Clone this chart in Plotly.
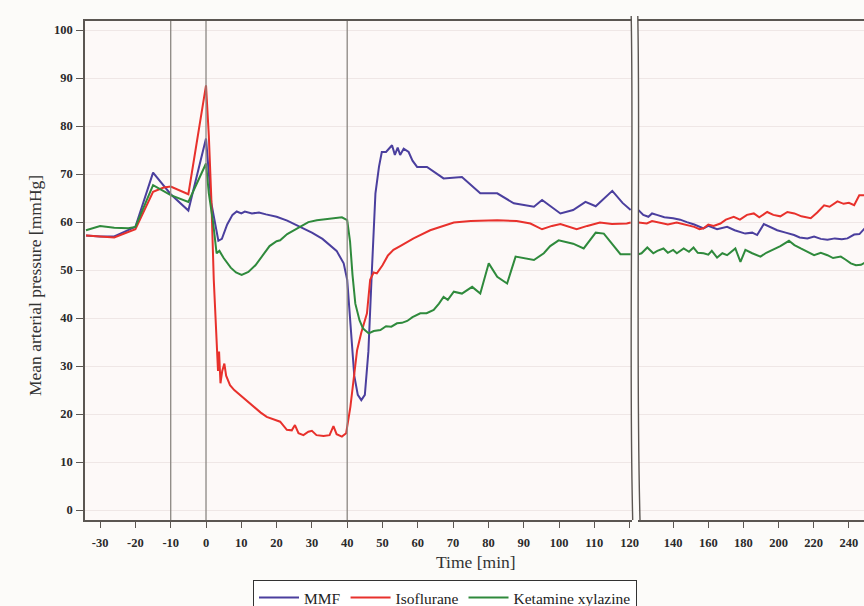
import plotly.graph_objects as go

# ---- data: mean arterial pressure (mmHg) over time (min) ----
mmf_t = [-34, -30, -26, -20, -15, -10, -5, 0, 1.5, 3, 3.5, 4.5, 6, 7.5, 8.7, 10, 11, 13, 15, 17,
         20, 23, 26.7, 30, 33, 35.2, 37, 39, 40, 41, 42, 43, 44, 45, 46, 47, 48, 49, 49.8, 51,
         52.7, 53.5, 54.3, 55, 56, 57.4, 58.5, 59.8, 62.6, 67.3, 72.5, 77.7, 82.5, 87.2, 92.9,
         95.2, 100.4, 104, 107.5, 110.4, 115.1, 118, 120.3,
         123, 125.9, 128, 130.7, 135, 140, 144, 147.8, 152, 157.3, 160, 165, 170.7, 175, 181,
         185, 187.8, 191.6, 195, 199.2, 204, 208.8, 212, 216.4, 220.2, 224, 227.8, 232, 236,
         239.2, 243, 246, 249]
mmf_v = [57.2, 57.0, 57.0, 59.0, 70.3, 65.8, 62.4, 77.4, 64, 57.5, 56.1, 56.5, 59.5, 61.5, 62.2,
         61.8, 62.2, 61.8, 62.0, 61.6, 61.1, 60.3, 59.0, 57.8, 56.5, 55.2, 54.0, 51.4, 48, 38, 28,
         24, 22.9, 24, 33, 50, 66, 71.5, 74.6, 74.6, 76.0, 74.0, 75.5, 74.0, 75.3, 74.6, 72.8,
         71.5, 71.5, 69.1, 69.4, 66.0, 66.0, 63.9, 63.2, 64.6, 61.8, 62.5, 64.2, 63.3, 66.5,
         64.0, 62.5,
         61.5, 61.1, 61.8, 61.5, 61.0, 60.8, 60.5, 60.0, 59.5, 58.7, 59.2, 58.5, 59.0, 58.3,
         57.6, 57.8, 57.3, 59.6, 59.0, 58.3, 57.8, 57.3, 56.8, 56.6, 57.0, 56.5, 56.3, 56.6,
         56.4, 56.6, 57.4, 57.5, 58.7]

iso_t = [-34, -30, -26, -20, -15, -12, -10, -5, 0, 0.8, 1.5, 2.2, 2.8, 3.0, 3.4, 3.7, 4.1, 4.6,
         5.2, 5.7, 6.8, 8, 9.6, 11, 13.4, 15.5, 17.2, 19, 21, 22.9, 24.3, 25.2, 26.2, 27.6, 29,
         30, 31.3, 33.3, 35, 36.1, 37, 38.5, 39.7, 40.9, 42.8, 44, 45.6, 46.5, 47.5, 48.4, 50,
         51.5, 53.1, 55, 58.8, 63.5, 70.2, 75, 82.5, 88, 91.9, 95.2, 98, 100.4, 105, 108,
         111.6, 115, 119.2, 120.3,
         125, 128, 132.6, 137, 142, 147.8, 152, 155, 157.3, 160, 163, 166.9, 170, 174.5, 178,
         182, 185.9, 189, 193.5, 197, 201, 205, 209, 213, 218.3, 222, 225.9, 229, 233.5, 237,
         240, 243, 245.9, 249]
iso_v = [57.2, 57.0, 56.8, 58.5, 66.3, 67.2, 67.4, 65.8, 88.5, 78, 65, 48, 38, 34.7, 29, 33,
         26.4, 29, 30.5, 28, 26, 25, 24, 23, 21.5, 20.3, 19.4, 19.0, 18.4, 16.7, 16.6, 17.7,
         16.0, 15.6, 16.3, 16.5, 15.6, 15.4, 15.6, 17.5, 15.8, 15.3, 16.0, 21.5, 33.3, 37, 41,
         48, 49.5, 49.3, 51, 53, 54.2, 55, 56.6, 58.3, 59.9, 60.2, 60.4, 60.2, 59.7, 58.5, 59.2,
         59.6, 58.5, 59.2, 59.9, 59.6, 59.7, 59.9,
         59.7, 60.2, 59.9, 59.5, 59.9, 59.4, 59.0, 58.5, 58.7, 59.5, 59.2, 59.7, 60.5, 61.1,
         60.5, 61.5, 61.8, 61.0, 62.1, 61.5, 61.2, 62.1, 61.8, 61.2, 60.8, 62.0, 63.5, 63.2,
         64.3, 63.8, 64.0, 63.5, 65.6, 65.6]

ket_t = [-34, -30, -26, -22, -20, -15, -10, -5, 0, 0.8, 2, 3, 3.8, 5, 7, 8.5, 10.1, 12, 14, 16,
         18, 20, 21, 23, 26.7, 29, 31.4, 34, 36, 38.5, 40, 40.8, 41.5, 42.3, 43.5, 44.5, 46.1,
         47.5, 49.4, 51, 52.5, 54.1, 55.5, 57, 58.5, 60.7, 62.5, 64.5, 66, 67.3, 68.5, 70.2,
         72.5, 75.4, 77.7, 80.1, 82.5, 85.3, 87.7, 90, 92.9, 95.7, 97.5, 99.9, 102, 104, 107,
         110.4, 112.7, 115, 117.4, 120.3,
         122, 125.3, 128.7, 131, 134.5, 137, 140, 142.1, 146, 149, 151.6, 154, 157.3, 160, 162,
         165, 168, 170.7, 173, 175.4, 178.3, 181.1, 185, 189.7, 193, 197.3, 201, 205.9, 209,
         212.6, 216, 220.2, 224, 227.8, 231, 235.4, 238, 241.1, 244, 246.9, 249]
ket_v = [58.3, 59.2, 58.8, 58.7, 59.0, 67.7, 65.6, 64.2, 72.2, 66, 60, 53.5, 54, 52.5, 50.5,
         49.5, 49.0, 49.6, 51, 53, 55, 56, 56.2, 57.5, 59.0, 60.0, 60.4, 60.6, 60.8, 61.0, 60.4,
         56, 49, 43, 39.5, 37.8, 36.8, 37.3, 37.5, 38.3, 38.2, 38.9, 39.0, 39.4, 40.2, 41.0,
         41.0, 41.7, 43.0, 44.4, 43.8, 45.5, 45.1, 46.5, 45.1, 51.4, 48.6, 47.2, 52.8, 52.5,
         52.1, 53.5, 55.0, 56.2, 55.8, 55.5, 54.5, 57.8, 57.6, 55.5, 53.3, 53.3,
         53.5, 54.7, 53.5, 54.0, 54.5, 53.6, 54.2, 53.5, 54.5, 53.8, 54.7, 53.6, 53.5, 53.2,
         54.0, 52.6, 53.5, 53.1, 53.8, 54.5, 51.7, 54.2, 53.5, 52.8, 53.6, 54.3, 55.0, 56.1,
         55.2, 54.5, 53.8, 53.1, 53.6, 53.1, 52.5, 52.8, 52.2, 51.4, 51.0, 51.1, 51.5]

series = [("MMF", mmf_t, mmf_v, "#4b3f9e"),
          ("Isoflurane", iso_t, iso_v, "#e8312c"),
          ("Ketamine xylazine", ket_t, ket_v, "#2f8a3c")]

BREAK = 120.3          # time where the axis is broken
markers = [-10, 0, 40]  # event lines
left_ticks = list(range(-30, 121, 10))
right_ticks = list(range(140, 241, 20))
y_ticks = list(range(0, 101, 10))

# ---- layout geometry (pixels) ----
W, H = 864, 606
L, R, T, B = 85, 0, 21, 86
PW, PH = W - L - R, H - T - B
def px(x):
    return (x - L) / PW
def py(y):
    return (H - B - y) / PH

fig = go.Figure()
for name, t, v, col in series:
    lt = [a for a in t if a <= BREAK]
    lv = [b for a, b in zip(t, v) if a <= BREAK]
    rt = [a for a in t if a >= BREAK]
    rv = [b for a, b in zip(t, v) if a >= BREAK]
    rt = [lt[-1]] + rt
    rv = [lv[-1]] + rv
    fig.add_trace(go.Scatter(x=lt, y=lv, mode="lines", name=name,
                             line=dict(color=col, width=2), xaxis="x", yaxis="y"))
    fig.add_trace(go.Scatter(x=rt, y=rv, mode="lines", name=name, showlegend=False,
                             line=dict(color=col, width=2), xaxis="x2", yaxis="y"))

FRAME = "#5b5652"
SERIF = "Liberation Serif"
tickfont = dict(family=SERIF, size=12.5, color="#2a2a2a", weight="bold")
common_x = dict(showline=True, linecolor=FRAME, linewidth=1.6, mirror=True,
                ticks="outside", ticklen=6, tickcolor=FRAME, tickwidth=1.2,
                ticklabelstandoff=4, showgrid=False, zeroline=False, tickfont=tickfont)

fig.update_layout(
    width=W, height=H,
    margin=dict(l=L, r=R, t=T, b=B, autoexpand=False),
    paper_bgcolor="#fcfbf9", plot_bgcolor="#fdf9f8",
    showlegend=True,
    xaxis=dict(domain=[0, px(632)], range=[-34.28, 120.68], tickvals=left_ticks,
               ticktext=[str(v) for v in left_ticks], automargin=False, **common_x),
    xaxis2=dict(domain=[px(638), 1], range=[120, 248.6], tickvals=right_ticks,
                ticktext=[str(v) for v in right_ticks], anchor="y", automargin=False,
                **common_x),
    yaxis=dict(range=[-2.08, 101.9], tickvals=y_ticks, showline=True, linecolor=FRAME,
               linewidth=1.6, ticks="outside", ticklen=7, tickcolor=FRAME, tickwidth=1.2,
               ticklabelstandoff=1, automargin=False,
               showgrid=True, gridcolor="#efe7e6", gridwidth=1, zeroline=False,
               tickfont=tickfont),
    legend=dict(orientation="h", x=px(445), xanchor="center", y=py(580), yanchor="top",
                bgcolor="#ffffff", bordercolor="#333333", borderwidth=1,
                font=dict(family=SERIF, size=15.5, color="#222"),
                itemwidth=40, tracegroupgap=0),
)

# axis titles
fig.add_annotation(text="Time [min]", xref="paper", yref="paper", x=px(476), y=py(562),
                   xanchor="center", yanchor="middle", showarrow=False,
                   font=dict(family=SERIF, size=17.5, color="#333"))
fig.add_annotation(text="Mean arterial pressure [mmHg]", xref="paper", yref="paper",
                   x=px(35), y=py(286), xanchor="center", yanchor="middle",
                   textangle=-90, showarrow=False,
                   font=dict(family=SERIF, size=17.5, color="#333"))

# event lines
for m in markers:
    fig.add_shape(type="line", xref="x", yref="paper", x0=m, x1=m, y0=0, y1=1,
                  line=dict(color="#8c8782", width=1.3))

# axis break marks
def curve(pts):
    (x0, y0), (x1, y1), (x2, y2), (x3, y3) = [(px(a), py(b)) for a, b in pts]
    return f"M {x0},{y0} C {x1},{y1} {x2},{y2} {x3},{y3}"

fig.add_shape(type="path", xref="paper", yref="paper",
              path=curve([(631.2, 16), (634, 170), (628.5, 340), (632.7, 520)]),
              line=dict(color=FRAME, width=1.4))
fig.add_shape(type="path", xref="paper", yref="paper",
              path=curve([(637.8, 16), (640.5, 170), (635.5, 340), (640, 520)]),
              line=dict(color=FRAME, width=1.4))

fig.write_html("out.html")
